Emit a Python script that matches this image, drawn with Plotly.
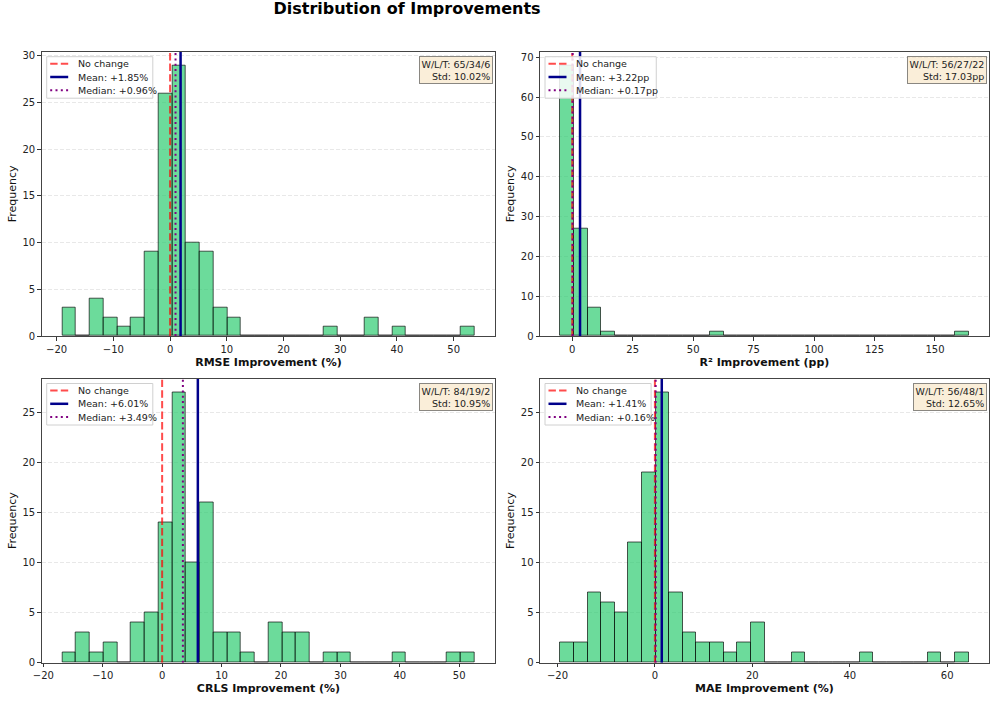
import plotly.graph_objects as go

# ---------------- data ----------------
x_titles = ["<b>RMSE Improvement (%)</b>", "<b>R² Improvement (pp)</b>",
            "<b>CRLS Improvement (%)</b>", "<b>MAE Improvement (%)</b>"]
units = ["%", "pp", "%", "%"]

rmse_counts = [3, 0, 4, 2, 1, 2, 9, 26, 29, 10, 9, 3, 2, 0, 0, 0, 0, 0, 0, 1, 0, 0, 2, 0, 1, 0, 0, 0, 0, 1]
r2_counts = [68, 27, 7, 1, 0, 0, 0, 0, 0, 0, 0, 1, 0, 0, 0, 0, 0, 0, 0, 0, 0, 0, 0, 0, 0, 0, 0, 0, 0, 1]
crls_counts = [1, 3, 1, 2, 0, 4, 5, 14, 27, 10, 16, 3, 3, 1, 0, 4, 3, 3, 0, 1, 1, 0, 0, 0, 1, 0, 0, 0, 1, 1]
mae_counts = [2, 2, 7, 6, 5, 12, 19, 27, 7, 3, 2, 2, 1, 2, 4, 0, 0, 1, 0, 0, 0, 0, 1, 0, 0, 0, 0, 1, 0, 1]

# data min / max (histogram range, 30 equal bins)
data_lo = [-19.0, -4.9, -16.8, -19.4]
data_hi = [53.7, 163.9, 52.6, 64.4]

means = [1.85, 3.22, 6.01, 1.41]
medians = [0.96, 0.17, 3.49, 0.16]
wlt = ["65/34/6", "56/27/22", "84/19/2", "56/48/1"]
stds = [10.02, 17.03, 10.95, 12.65]

x_tickvals = [[-20, -10, 0, 10, 20, 30, 40, 50],
              [0, 25, 50, 75, 100, 125, 150],
              [-20, -10, 0, 10, 20, 30, 40, 50],
              [-20, 0, 20, 40, 60]]
y_tickvals = [[0, 5, 10, 15, 20, 25, 30],
              [0, 10, 20, 30, 40, 50, 60, 70],
              [0, 5, 10, 15, 20, 25],
              [0, 5, 10, 15, 20, 25]]

all_counts = [rmse_counts, r2_counts, crls_counts, mae_counts]

# ---------------- layout geometry (pixels) ----------------
W, H = 990, 702
FONT = "DejaVu Sans"
boxes = [(41.7, 495.3, 51.7, 336.0),
         (540.0, 989.0, 51.7, 336.0),
         (41.7, 495.3, 378.5, 662.7),
         (540.0, 989.0, 378.5, 662.7)]

RED = "rgba(255,0,0,0.7)"
BLUE = "#00008b"
PURPLE = "#800080"
DASH = "7.4px,3.2px"
DOT = "2px,3.3px"


def px(x):
    return x / W


def py(y):
    return 1 - y / H


fig = go.Figure()
layout = dict(
    width=W, height=H, autosize=False,
    margin=dict(l=0, r=0, t=0, b=0, autoexpand=False),
    paper_bgcolor="white", plot_bgcolor="white",
    font=dict(family=FONT, size=10, color="#222"),
    title=dict(text="<b>Distribution of Improvements</b>", x=407 / W, xanchor="center",
               y=1 - 8.5 / H, yanchor="middle", font=dict(size=16, family=FONT, color="black")),
    bargap=0, showlegend=False,
)

annotations = []
shapes = []
for i in range(4):
    n = i + 1
    xa = "x" if n == 1 else f"x{n}"
    ya = "y" if n == 1 else f"y{n}"
    xkey = "xaxis" if n == 1 else f"xaxis{n}"
    ykey = "yaxis" if n == 1 else f"yaxis{n}"
    l, r, t, b = boxes[i]
    counts = all_counts[i]
    nb = len(counts)
    lo, hi = data_lo[i], data_hi[i]
    bw = (hi - lo) / nb
    centers = [lo + bw * (k + 0.5) for k in range(nb)]
    span = hi - lo
    xr = [lo - 0.05 * span, hi + 0.05 * span]
    ymax = max(counts) * 1.05
    u = units[i]

    fig.add_trace(go.Bar(
        x=centers, y=counts, width=[bw] * nb, xaxis=xa, yaxis=ya,
        marker=dict(color="rgba(46,204,113,0.7)", line=dict(color="rgba(0,0,0,0.65)", width=1)),
        showlegend=False, hoverinfo="x+y"))

    labels = ["No change", f"Mean: {means[i]:+.2f}{u}", f"Median: {medians[i]:+.2f}{u}"]
    xs = [0, means[i], medians[i]]
    styles = [dict(color=RED, width=2, dash=DASH),
              dict(color=BLUE, width=2.5),
              dict(color=PURPLE, width=2, dash=DOT)]
    for xv, lab, st in zip(xs, labels, styles):
        fig.add_trace(go.Scatter(x=[xv, xv], y=[0, ymax], mode="lines", xaxis=xa, yaxis=ya,
                                 line=st, name=lab, showlegend=False))

    layout[xkey] = dict(
        domain=[l / W, r / W], range=xr, anchor=ya, automargin=False,
        tickvals=x_tickvals[i], ticks="outside", ticklen=3.5, tickwidth=0.8, tickcolor="#333",
        showline=True, linecolor="#444", linewidth=1, mirror=True, showgrid=False, zeroline=False,
        tickfont=dict(size=10, color="#222"),
        title=dict(text=x_titles[i], font=dict(size=11, color="#111"), standoff=4))
    layout[ykey] = dict(
        domain=[1 - b / H, 1 - t / H], range=[0, ymax], anchor=xa, automargin=False,
        tickvals=y_tickvals[i], ticks="outside", ticklen=3.5, tickwidth=0.8, tickcolor="#333",
        showline=True, linecolor="#444", linewidth=1, mirror=True,
        showgrid=True, gridcolor="rgba(0,0,0,0.09)", griddash="4px,2px", gridwidth=0.8,
        zeroline=False, tickfont=dict(size=10, color="#222"),
        title=dict(text="Frequency", font=dict(size=11, color="#111"), standoff=3))

    # ---- legend (top-left inside the axes) ----
    lx0, ly0 = l + 5, t + 5
    box_w = 34 + 5.15 * max(len(s) for s in labels)
    box_h = 41.5
    shapes.append(dict(type="rect", xref="paper", yref="paper",
                       x0=px(lx0), x1=px(lx0 + box_w), y0=py(ly0), y1=py(ly0 + box_h),
                       fillcolor="rgba(255,255,255,0.85)", line=dict(color="#d0d0d0", width=1),
                       layer="above"))
    for k, (lab, st) in enumerate(zip(labels, styles)):
        yy = ly0 + 7 + 13.3 * k
        shapes.append(dict(type="line", xref="paper", yref="paper",
                           x0=px(lx0 + 3.5), x1=px(lx0 + 21.5), y0=py(yy), y1=py(yy),
                           line=st, layer="above"))
        annotations.append(dict(xref="paper", yref="paper", x=px(lx0 + 29), y=py(yy),
                                xanchor="left", yanchor="middle", text=lab, showarrow=False,
                                font=dict(size=9.5, family=FONT, color="#222")))

    # ---- stats box (top-right) ----
    annotations.append(dict(
        xref=f"{xa} domain", yref=f"{ya} domain",
        x=1 - 2.5 / (r - l), y=1 - 4 / (b - t), xanchor="right", yanchor="top",
        text=f"W/L/T: {wlt[i]}<br>Std: {stds[i]:.2f}{u}", align="right", showarrow=False,
        font=dict(size=9.5, family=FONT, color="#222"),
        bgcolor="rgba(245,222,179,0.5)", bordercolor="rgba(0,0,0,0.45)", borderwidth=1, borderpad=1.5))

layout["annotations"] = annotations
layout["shapes"] = shapes
fig.update_layout(**layout)
fig.write_html("out.html", config={"displayModeBar": False},
               post_script="document.body.style.margin='0';document.body.style.overflow='hidden';")
